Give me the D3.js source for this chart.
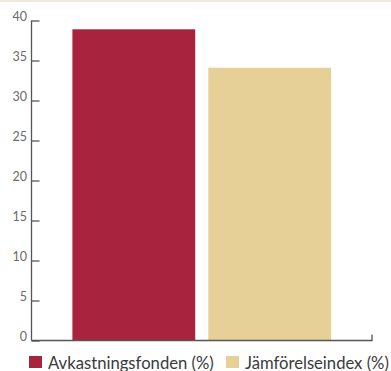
<!DOCTYPE html>
<html>
<head>
<meta charset="utf-8">
<script src="https://cdn.jsdelivr.net/npm/d3@7"></script>
<style>
  html, body { margin: 0; padding: 0; background: #fff; }
  svg { display: block; }
  text { font-family: Lato, "Open Sans", sans-serif; font-weight: 400; }
</style>
</head>
<body>
<svg id="chart" width="391" height="371"></svg>
<script>
// Returns vs. benchmark index
const categories = ["Avkastningsfonden (%)", "Jämförelseindex (%)"];
const values = [38.9, 34.1];
const colors = ["#a8233d", "#e7cf98"];
const yTicks = [0, 5, 10, 15, 20, 25, 30, 35, 40];

const svg = d3.select("#chart");
const W = 391, H = 371;

// thin header strip
svg.append("rect").attr("x", 0).attr("y", 0).attr("width", W).attr("height", 2).attr("fill", "#efeadb");

const x0 = 31.5, x1 = 372, yTop = 20.5, yBot = 340.5;

const x = d3.scaleBand().domain(categories).range([x0, x1]).paddingInner(0.096).paddingOuter(0.301);
const y = d3.scaleLinear().domain([0, 40]).range([yBot, yTop]);

// bars
svg.append("g").selectAll("rect").data(categories).join("rect")
  .attr("x", d => x(d))
  .attr("width", x.bandwidth())
  .attr("y", (d, i) => y(values[i]))
  .attr("height", (d, i) => y(0) - y(values[i]))
  .attr("fill", (d, i) => colors[i]);

// y axis: ticks pointing inward
const yAxis = d3.axisRight(y).tickValues(yTicks).tickSize(8).tickFormat("");
const gy = svg.append("g").attr("transform", `translate(${x0},0)`).call(yAxis);
gy.select(".domain").remove();
gy.selectAll(".tick line").attr("stroke", "#555").attr("stroke-width", 1.3);
svg.append("line").attr("x1", x0).attr("x2", x0).attr("y1", yTop).attr("y2", yBot)
  .attr("stroke", "#555").attr("stroke-width", 1.3);

// tick labels
svg.append("g").selectAll("text").data(yTicks).join("text")
  .attr("x", 27)
  .attr("y", d => y(d) - 3)
  .attr("text-anchor", "end")
  .attr("dominant-baseline", "middle")
  .attr("font-size", 12.5)
  .attr("fill", "#6a6a6a")
  .text(d => d);

// x axis baseline with end tick
svg.append("path")
  .attr("d", `M${x0},${yBot}H${x1}V${yBot - 6}`)
  .attr("fill", "none").attr("stroke", "#555").attr("stroke-width", 1.3);

// legend
const legendX = [29, 226];
const legendW = [166, 144];
const lg = svg.append("g").selectAll("g").data(categories).join("g")
  .attr("transform", (d, i) => `translate(${legendX[i]},356)`);
lg.append("rect").attr("width", 13).attr("height", 12).attr("fill", (d, i) => colors[i]);
lg.append("text")
  .attr("x", 19)
  .attr("y", 12.5)
  .attr("font-size", 17)
  .attr("fill", "#3a3a3a")
  .text(d => d)
  .each(function(d, i) {
    const w = this.getComputedTextLength();
    const fs = 17 * legendW[i] / w;
    d3.select(this).attr("font-size", fs);
  });
</script>
</body>
</html>
